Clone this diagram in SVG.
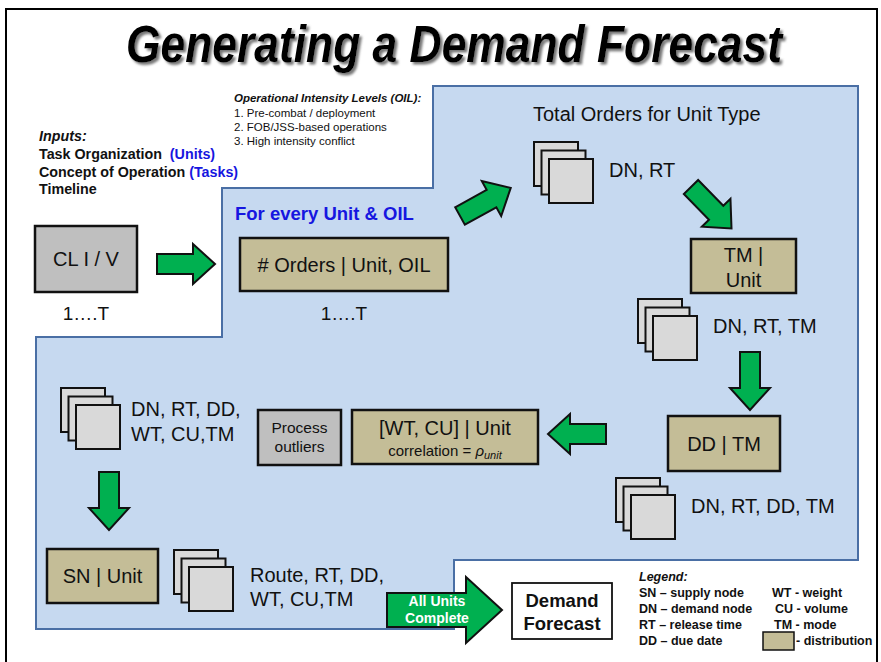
<svg xmlns="http://www.w3.org/2000/svg" xmlns:xlink="http://www.w3.org/1999/xlink" width="881" height="662" viewBox="0 0 881 662">
<style>
text{font-family:"Liberation Sans",Arial,sans-serif;fill:#111}
.lbl{font-size:20px}
.mid{text-anchor:middle}
.tan{fill:#c4bd97;stroke:#111;stroke-width:2.5}
.gray{fill:#bfbfbf;stroke:#111;stroke-width:2.5}
.sq{fill:#d9d9d9;stroke:#111;stroke-width:2}
.arrow{fill:#00b050;stroke:#111;stroke-width:2;stroke-linejoin:miter}
.blue{fill:#1616e0}
.leg{font-size:12.5px;font-weight:bold}
</style>
<defs>
<filter id="shadow" x="-5%" y="-20%" width="110%" height="150%">
<feDropShadow dx="2.5" dy="2.5" stdDeviation="0.8" flood-color="#777" flood-opacity="1"/>
</filter>
<path id="arr" d="M0,-10 H36 V-20 L58,0 L36,20 V10 H0 Z"/>
<g id="stack">
<rect class="sq" x="0" y="0" width="44" height="44"/>
<rect class="sq" x="7.5" y="8.5" width="44" height="44"/>
<rect class="sq" x="15" y="17" width="44" height="44"/>
</g>
</defs>
<rect x="0" y="0" width="881" height="662" fill="#fff"/>
<rect x="6" y="9" width="871" height="670" fill="none" stroke="#000" stroke-width="2"/>
<g id="title">
<text x="454" y="62" class="mid" font-size="51" font-weight="bold" font-style="italic" textLength="656" lengthAdjust="spacingAndGlyphs" filter="url(#shadow)" style="fill:#000">Generating a Demand Forecast</text>
</g>
<g id="region">
<polygon points="433,86 858,86 858,560 454,560 454,629 36,629 36,337 222,337 222,188 433,188" fill="#c6d9f0" stroke="#4a6fa5" stroke-width="2"/>
</g>
<g id="oil">
<text x="234" y="102" font-size="11.5" font-weight="bold" font-style="italic">Operational Intensity Levels (OIL):</text>
<text x="234" y="117" font-size="11.5">1. Pre-combat / deployment</text>
<text x="234" y="131" font-size="11.5">2. FOB/JSS-based operations</text>
<text x="234" y="145" font-size="11.5">3. High intensity conflict</text>
</g>
<g id="inputs" font-size="14.3" font-weight="bold">
<text x="39" y="141" font-style="italic">Inputs:</text>
<text x="39" y="159">Task Organization <tspan class="blue" dx="4">(Units)</tspan></text>
<text x="39" y="177">Concept of Operation <tspan class="blue">(Tasks)</tspan></text>
<text x="39" y="194">Timeline</text>
</g>
<g id="connectors">
<use xlink:href="#arr" class="arrow" transform="translate(157,264)"/>
<use xlink:href="#arr" class="arrow" transform="translate(460,216) rotate(-29)"/>
<use xlink:href="#arr" class="arrow" transform="translate(691,187) rotate(45.7)"/>
<use xlink:href="#arr" class="arrow" transform="translate(750,352) rotate(90)"/>
<use xlink:href="#arr" class="arrow" transform="translate(606,434) rotate(180)"/>
<use xlink:href="#arr" class="arrow" transform="translate(109,472) rotate(90)"/>
<path class="arrow" d="M387,593 H466 V577 L502,610 L466,643 V627 H387 Z"/>
<text x="437" y="606" class="mid" font-size="14" font-weight="bold" style="fill:#fff">All Units</text>
<text x="437" y="623" class="mid" font-size="14" font-weight="bold" style="fill:#fff">Complete</text>
</g>
<g id="cl">
<rect class="gray" x="35" y="226" width="102" height="66"/>
<text x="86" y="266" class="lbl mid">CL I / V</text>
<text x="86" y="320" class="mid" font-size="19">1….T</text>
</g>
<g id="every">
<text x="235" y="220" font-size="18.5" font-weight="bold" class="blue">For every Unit &amp; OIL</text>
</g>
<g id="orders">
<rect class="tan" x="240" y="238" width="208" height="53"/>
<text x="344" y="272" class="lbl mid"># Orders | Unit, OIL</text>
<text x="344" y="320" class="mid" font-size="19">1….T</text>
</g>
<g id="total">
<text x="533" y="121" class="lbl">Total Orders for Unit Type</text>
<use xlink:href="#stack" x="534" y="142"/>
<text x="609" y="177" class="lbl">DN, RT</text>
</g>
<g id="tm">
<rect class="tan" x="691" y="239" width="105" height="54"/>
<text x="743.5" y="262" class="lbl mid">TM |</text>
<text x="743.5" y="287" class="lbl mid">Unit</text>
</g>
<g id="s2">
<use xlink:href="#stack" x="638" y="299"/>
<text x="713" y="333" class="lbl">DN, RT, TM</text>
</g>
<g id="dd">
<rect class="tan" x="668" y="416" width="112" height="55"/>
<text x="724" y="451" class="lbl mid">DD | TM</text>
</g>
<g id="s3">
<use xlink:href="#stack" x="616" y="478"/>
<text x="691" y="513" class="lbl">DN, RT, DD, TM</text>
</g>
<g id="wtcu">
<rect class="tan" x="352" y="410" width="186" height="54"/>
<text x="445" y="435" class="lbl mid">[WT, CU] | Unit</text>
<text x="445" y="456" class="mid" font-size="15">correlation = <tspan font-style="italic">ρ</tspan><tspan font-style="italic" font-size="11" dy="3">unit</tspan></text>
</g>
<g id="outliers">
<rect class="gray" x="258" y="410" width="83" height="55"/>
<text x="299.5" y="433" class="mid" font-size="15.5">Process</text>
<text x="299.5" y="452" class="mid" font-size="15.5">outliers</text>
</g>
<g id="s4">
<use xlink:href="#stack" x="61" y="388"/>
<text x="131" y="416" class="lbl">DN, RT, DD,</text>
<text x="131" y="441" class="lbl">WT, CU,TM</text>
</g>
<g id="sn">
<rect class="tan" x="47" y="549" width="111" height="54"/>
<text x="102.5" y="583" class="lbl mid">SN | Unit</text>
</g>
<g id="s5">
<use xlink:href="#stack" x="174" y="550"/>
<text x="250" y="582" class="lbl">Route, RT, DD,</text>
<text x="250" y="606" class="lbl">WT, CU,TM</text>
</g>
<g id="forecast">
<rect x="512" y="583" width="100" height="56" fill="#fff" stroke="#111" stroke-width="1.8"/>
<text x="562" y="607" class="mid" font-size="18.5" font-weight="bold">Demand</text>
<text x="562" y="630" class="mid" font-size="18.5" font-weight="bold">Forecast</text>
</g>
<g id="legend">
<text x="639" y="581" class="leg" font-style="italic">Legend:</text>
<text x="639" y="597" class="leg">SN – supply node</text>
<text x="639" y="613" class="leg">DN – demand node</text>
<text x="639" y="629" class="leg">RT – release time</text>
<text x="639" y="645" class="leg">DD – due date</text>
<text x="772" y="597" class="leg">WT - weight</text>
<text x="775" y="613" class="leg">CU - volume</text>
<text x="774" y="629" class="leg">TM - mode</text>
<rect x="763" y="632" width="31" height="18" fill="#c4bd97" stroke="#111" stroke-width="1.5"/>
<text x="796" y="645" class="leg">- distribution</text>
</g>
</svg>
